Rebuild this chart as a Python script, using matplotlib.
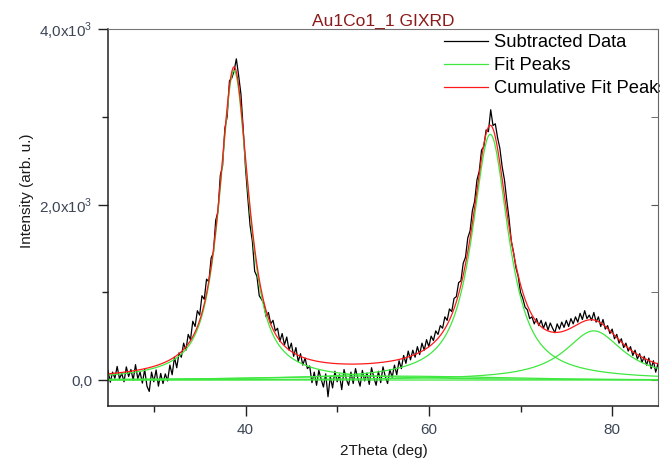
import numpy as np
import matplotlib
matplotlib.use('Agg')
import matplotlib.pyplot as plt
from matplotlib.ticker import MultipleLocator

plt.rcParams['font.family'] = ['Liberation Sans', 'DejaVu Sans']
plt.rcParams['mathtext.fontset'] = 'custom'
plt.rcParams['mathtext.rm'] = 'Liberation Sans'

# Measured (background subtracted) pattern, 25..85 deg every 0.25 deg
theta_start, theta_end, theta_step = 25.0, 85.0, 0.25
intensity = [
    110, -25, 90, 20,   155, 15, 75, -20,   150, 40, 120, 0,   175, 15, 90, -35,
    120, -70, -130, 90,   -20, 115, -70, 75,   -40, 70, -10, 170,   60, 260, 140, 310,
    260, 420, 340, 520,   460, 670, 610, 790,   740, 960, 920, 1150,   1120, 1390, 1450, 1820,
    1920, 2330, 2440, 2870,   3000, 3410, 3440, 3520,   3660, 3470, 3260, 2860,
    2420, 2080, 1760, 1580,   1240, 1180, 960, 920,   870, 720, 770, 640,   680, 560, 590, 440,
    530, 400, 490, 340,   420, 270, 370, 210,   300, 170, 250, 130,   160, -30, 90, -60,
    110, 10, -80, 70,   -190, 40, -90, 100,   -20, 60, -110, 120,   10, -60, 90, -40,
    130, 20, -70, 110,   -10, 80, -50, 140,   30, -60, 100, -30,   150, 40, -40, 120,
    30, 170, 60, 220,   130, 280, 190, 330,   230, 340, 260, 380,   290, 420, 340, 460,
    380, 500, 450, 560,   520, 620, 590, 720,   680, 810, 780, 930,   950, 1110, 1130, 1330,
    1400, 1620, 1700, 1930,   2040, 2280, 2380, 2620,   2660, 2850, 2830, 3080,
    2900, 2920, 2760, 2640,   2430, 2280, 2050, 1840,   1580, 1450, 1280, 1180,
    1000, 930, 830, 800,   700, 720, 640, 700,   620, 680, 590, 660,   570, 650, 590, 540,
    640, 580, 660, 600,   680, 610, 700, 640,   720, 660, 760, 690,   790, 700, 740, 680,
    770, 660, 720, 610,   690, 580, 620, 530,   580, 470, 520, 420,   470, 370, 420, 330,
    380, 280, 340, 240,   300, 200, 270, 170,   250, 130, 220, 90,
    190,
]

# fitted peak parameters (pseudo-Voigt)
peak_centers = [38.75, 66.7, 78.0, 55.0]
peak_heights = [3525, 2800, 560, 45]
peak_fwhm = [3.8, 4.8, 7.8, 30.0]
peak_eta = [0.85, 0.9, 1.0, 0.0]

x_ticks = [40, 60, 80]
y_ticks = [0, 2000, 4000]
y_tick_labels = ['0,0', r'2,0x10$^\mathrm{3}$', r'4,0x10$^\mathrm{3}$']


def pseudo_voigt(x, c, h, fwhm, eta):
    d = (x - c) / (fwhm / 2)
    lor = 1 / (1 + d ** 2)
    gau = np.exp(-np.log(2) * d ** 2)
    return h * (eta * lor + (1 - eta) * gau)


two_theta = np.linspace(theta_start, theta_end, len(intensity))
x_fit = np.linspace(theta_start, theta_end, 1201)
peaks = [pseudo_voigt(x_fit, c, h, w, e)
         for c, h, w, e in zip(peak_centers, peak_heights, peak_fwhm, peak_eta)]
cumulative = np.sum(peaks, axis=0)

fig = plt.figure(figsize=(6.6, 4.59), dpi=100)
ax = fig.add_axes([108 / 660, 53 / 459, 550 / 660, 377 / 459])

green = '#3ee83e'
ax.plot(two_theta, intensity, color='black', lw=0.9, label='Subtracted Data')
ax.plot(x_fit, np.zeros_like(x_fit), color=green, lw=0.9)
for i, p in enumerate(peaks):
    ax.plot(x_fit, p, color=green, lw=0.9, label='Fit Peaks' if i == 0 else None)
ax.plot(x_fit, cumulative, color='#ff1a1a', lw=0.9, label='Cumulative Fit Peaks')

ax.set_xlim(25, 85)
ax.set_ylim(-296, 4000)
ax.set_xticks(x_ticks)
ax.xaxis.set_minor_locator(MultipleLocator(10))
ax.set_yticks(y_ticks, labels=y_tick_labels)
ax.yaxis.set_minor_locator(MultipleLocator(1000))

tick_col = '#3c4656'
ax.tick_params(axis='both', which='major', direction='out', length=7, width=1,
               labelsize=11, labelcolor=tick_col, color='#222222')
ax.tick_params(axis='both', which='minor', direction='out', length=4, width=1,
               color='#222222')
ax.tick_params(axis='x', pad=5)
ax.tick_params(axis='y', pad=4)

for side in ['left', 'bottom']:
    ax.spines[side].set_color('#222222')
    ax.spines[side].set_linewidth(1.1)
ax.spines['top'].set_color('#777777')
ax.spines['right'].set_visible(False)

sec = ax.secondary_yaxis('right')
sec.set_yticks(y_ticks)
sec.yaxis.set_minor_locator(MultipleLocator(1000))
sec.tick_params(which='both', direction='in', length=5, color='#555555',
                labelright=False)
sec.spines['right'].set_color('#666666')

ax.set_xlabel('2Theta (deg)', fontsize=11, color='#1a1a1a')
ax.set_ylabel('Intensity (arb. u.)', fontsize=11, color='#1a1a1a')
ax.xaxis.set_label_coords(0.502, -0.100)
ax.yaxis.set_label_coords(-0.135, 0.57)

ax.set_title('Au1Co1_1 GIXRD', fontsize=12.5, color='#8b1a1a', pad=2)

fig.legend(loc='upper left', bbox_to_anchor=(444 / 660, 1 - 34 / 459),
           frameon=False, fontsize=13.2, borderpad=0, borderaxespad=0,
           handlelength=2.4, handletextpad=0.35, labelspacing=0.34)

fig.savefig('out.png', dpi=100)
